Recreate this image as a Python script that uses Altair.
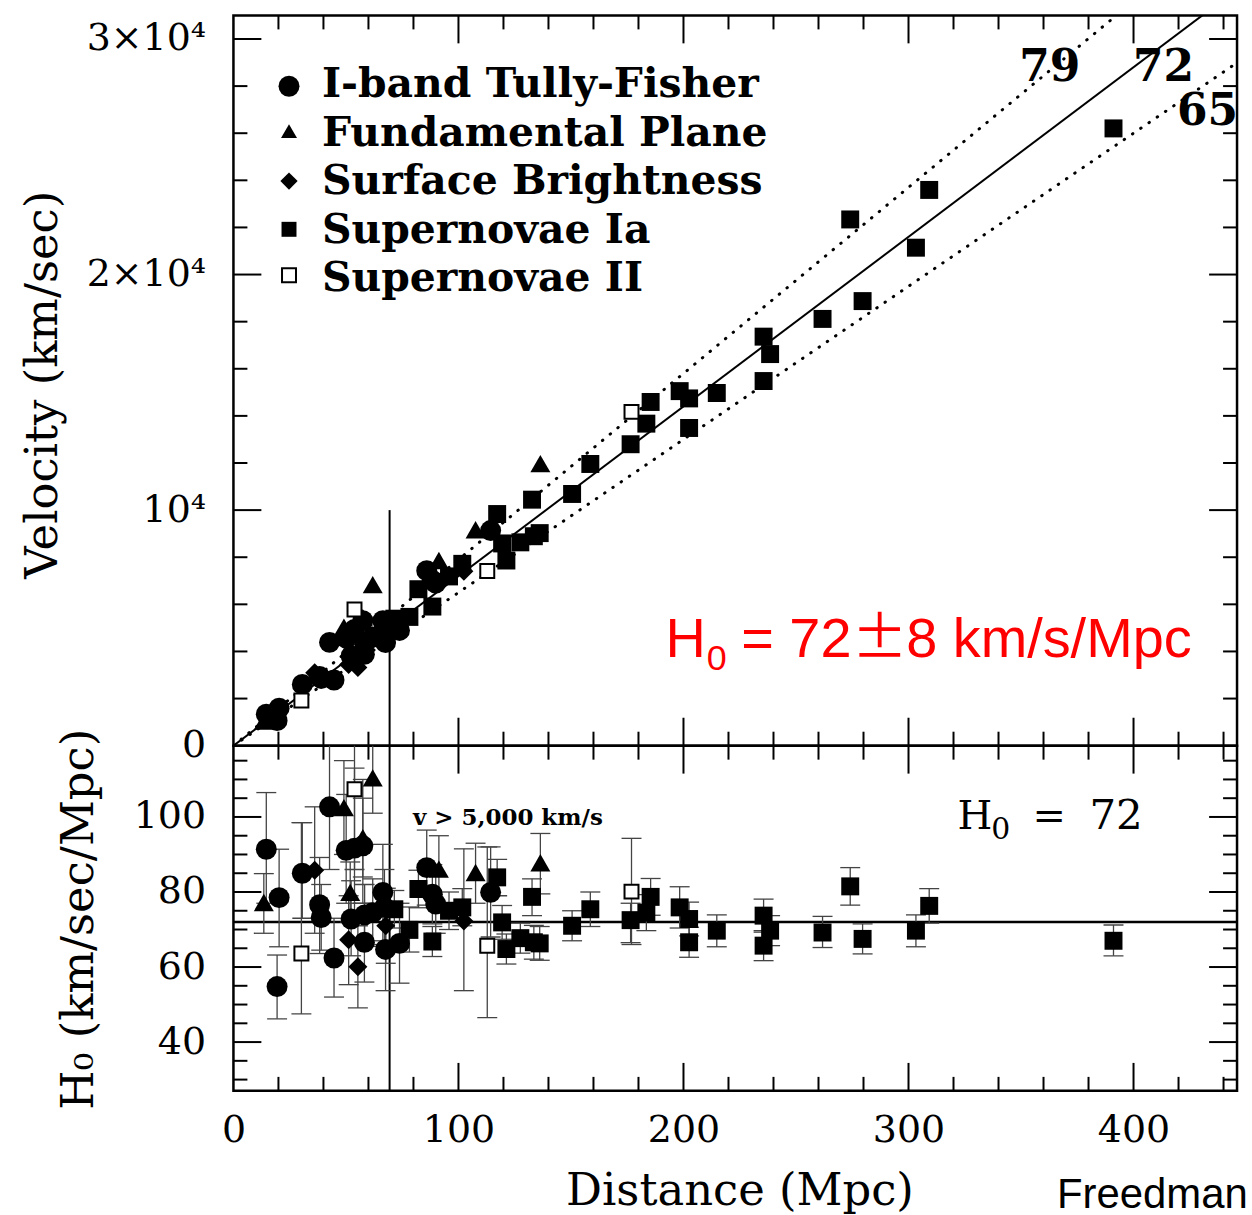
import altair as alt
import pandas as pd

# ---------------- data ----------------
# I-band Tully-Fisher (circles)
tf_dist = [14.6, 20.3, 19.4, 30.6, 38.3, 39.0, 44.7, 42.7, 50.1, 53.8, 57.5, 52.3,
           58.2, 58.3, 61.9, 66.4, 67.1, 67.6, 73.8, 85.9, 88.4, 89.9, 114.3]
tf_h0 = [91.4, 78.5, 54.8, 85.0, 76.6, 73.2, 62.4, 102.7, 91.1, 91.7, 92.3, 72.8,
         66.6, 73.9, 74.5, 79.9, 75.9, 64.7, 66.3, 86.5, 79.4, 76.8, 79.9]
tf_lo = [77.0, 65.4, 46.2, 73.0, 63.6, 64.5, 52.0, 86.0, 77.0, 74.0, 77.0, 63.0,
         56.0, 66.0, 65.5, 67.0, 66.0, 53.7, 55.7, 76.5, 71.5, 69.0, 68.0]
tf_hi = [106.5, 91.4, 63.2, 98.5, 89.2, 82.0, 73.0, 119.5, 106.0, 113.0, 110.0, 83.0,
         77.0, 82.0, 83.5, 92.7, 86.0, 75.7, 77.0, 96.5, 87.3, 84.6, 92.0]
# Fundamental Plane (triangles)
fp_dist = [13.5, 49.1, 61.9, 57.5, 51.9, 91.3, 107.6, 136.4]
fp_h0 = [77.2, 102.5, 110.4, 94.5, 79.9, 86.1, 85.2, 87.8]
fp_lo = [69.0, 90.0, 101.0, 84.0, 72.0, 77.0, 77.0, 79.5]
fp_hi = [84.9, 115.0, 120.0, 105.0, 88.0, 95.0, 93.0, 95.6]
# Surface Brightness (diamonds)
sbf_dist = [36.1, 51.2, 55.3, 67.7, 102.4]
sbf_h0 = [85.8, 67.3, 60.1, 71.0, 72.3]
sbf_lo = [69.0, 55.3, 49.1, 61.0, 53.7]
sbf_hi = [102.7, 79.0, 71.0, 81.0, 91.5]
# Supernovae Ia (filled squares)
sn1_dist = [71.5, 78.2, 82.2, 88.4, 95.8, 101.7, 117.2, 119.4, 121.3, 127.5, 132.7,
            133.5, 136.1, 150.5, 158.6, 176.5, 183.5, 185.4, 198.3, 202.5, 202.5,
            214.8, 235.6, 238.5, 235.6, 261.8, 274.1, 279.6, 303.3, 309.2, 391.1]
sn1_h0 = [75.4, 69.9, 80.8, 66.8, 75.0, 75.9, 83.9, 71.9, 64.8, 67.7, 78.7,
          66.6, 66.3, 71.0, 75.4, 72.5, 74.5, 78.7, 75.9, 72.8, 66.6,
          69.7, 73.7, 69.7, 65.7, 69.2, 81.5, 67.5, 69.7, 76.3, 67.0]
sn1_lo = [70.4, 64.0, 75.8, 62.8, 70.0, 71.0, 79.0, 67.4, 60.8, 63.7, 73.7,
          62.1, 61.8, 67.0, 70.8, 66.5, 69.7, 73.8, 70.4, 68.3, 62.6,
          65.4, 69.3, 65.7, 61.7, 65.2, 76.5, 63.5, 65.4, 71.7, 63.0]
sn1_hi = [80.4, 76.0, 85.8, 70.8, 80.0, 80.9, 88.7, 76.4, 68.8, 71.7, 83.5,
          71.1, 70.8, 75.0, 80.0, 77.0, 79.3, 83.6, 81.4, 77.3, 70.6,
          73.9, 78.1, 73.7, 69.7, 73.5, 86.5, 71.5, 73.9, 80.9, 71.2]
# Supernovae II (open squares)
sn2_dist = [30.2, 53.8, 112.8, 176.9]
sn2_h0 = [63.6, 107.4, 65.7, 80.1]
sn2_lo = [47.5, 86.0, 46.5, 66.0]
sn2_hi = [98.5, 125.0, 92.0, 94.3]

legend_names = ["I-band Tully-Fisher", "Fundamental Plane", "Surface Brightness",
                "Supernovae Ia", "Supernovae II"]
fit_slopes = [72, 79, 65]
fit_labels = ["72", "79", "65"]
h0_ref = [72]
v_cut = [69.4]          # 5,000 km/s at H0 = 72
v_cut_top = [10000]

x_major = [100, 200, 300, 400]
x_minor = [20, 40, 60, 80, 120, 140, 160, 180, 220, 240, 260, 280, 320, 340, 360, 380, 420, 440]
v_major = [10000, 20000, 30000]
v_minor = [2000, 4000, 6000, 8000, 12000, 14000, 16000, 18000, 22000, 24000, 26000, 28000]
h_major = [40, 60, 80, 100]
h_minor = [30, 35, 45, 50, 55, 65, 70, 75, 85, 90, 95, 105, 110, 115]
x_labels = [0, 100, 200, 300, 400]
v_labels = [0, 10000, 20000, 30000]
h_labels = [40, 60, 80, 100]

# ---------------- geometry ----------------
W = 1006
H_TOP = 732
H_BOT = 346
XMAX = 446
VMAX = 31000
HMIN, HMAX = 27, 119
MAJ, MIN = 28, 14

SERIF = "DejaVu Serif"
SANS = "Liberation Sans"
LABEL_SIZE = 38

frames = []
for kind, d, h, lo, hi in [("TF", tf_dist, tf_h0, tf_lo, tf_hi),
                           ("FP", fp_dist, fp_h0, fp_lo, fp_hi),
                           ("SBF", sbf_dist, sbf_h0, sbf_lo, sbf_hi),
                           ("SNIa", sn1_dist, sn1_h0, sn1_lo, sn1_hi),
                           ("SNII", sn2_dist, sn2_h0, sn2_lo, sn2_hi)]:
    frames.append(pd.DataFrame({"kind": kind, "d": d, "h": h, "lo": lo, "hi": hi}))
df = pd.concat(frames, ignore_index=True)
df["v"] = df["d"] * df["h"]
df_filled = df[df.kind != "SNII"]
df_open = df[df.kind == "SNII"]

xs = alt.Scale(domain=[0, XMAX], nice=False, zero=False)
ys_top = alt.Scale(domain=[0, VMAX], nice=False, zero=False)
ys_bot = alt.Scale(domain=[HMIN, HMAX], nice=False, zero=False)

common_axis = dict(ticks=False, tickSize=0, domain=False, grid=False, title=None,
                   labelOverlap=False, labelFlush=False, labelFont=SERIF,
                   labelFontSize=LABEL_SIZE, labelColor="black")
x_axis_bot = alt.Axis(values=x_labels, labelPadding=21, **common_axis)
y_axis_top = alt.Axis(values=v_labels, labelPadding=28,
                      labelExpr="datum.value == 0 ? '0' : datum.value == 10000 ? '10\u2074' : format(datum.value / 10000, 'd') + '\u00d710\u2074'",
                      **common_axis)
y_axis_bot = alt.Axis(values=h_labels, labelPadding=28, **common_axis)


def XT(field):
    return alt.X(field, type="quantitative", scale=xs, axis=None)


def XB(field):
    return alt.X(field, type="quantitative", scale=xs, axis=x_axis_bot)


def YT(field):
    return alt.Y(field, type="quantitative", scale=ys_top, axis=y_axis_top)


def YB(field):
    return alt.Y(field, type="quantitative", scale=ys_bot, axis=y_axis_bot)


def txt(s, x, y, size, font, weight="normal", color="black", align="left",
        baseline="alphabetic", angle=0):
    return alt.Chart(pd.DataFrame({"t": [s]})).mark_text(
        align=align, baseline=baseline, font=font, fontSize=size,
        fontWeight=weight, color=color, angle=angle
    ).encode(x=alt.value(x), y=alt.value(y), text="t:N")


def xticks(values, length, height, Xf):
    d = pd.DataFrame({"t": values})
    bottom = alt.Chart(d).mark_rule(color="black", strokeWidth=2).encode(
        x=Xf("t"), y=alt.value(height), y2=alt.value(height - length))
    top = alt.Chart(d).mark_rule(color="black", strokeWidth=2).encode(
        x=Xf("t"), y=alt.value(0), y2=alt.value(length))
    return [bottom, top]


def yticks(values, length, Yf):
    d = pd.DataFrame({"t": values})
    left = alt.Chart(d).mark_rule(color="black", strokeWidth=2).encode(
        y=Yf("t"), x=alt.value(0), x2=alt.value(length))
    right = alt.Chart(d).mark_rule(color="black", strokeWidth=2).encode(
        y=Yf("t"), x=alt.value(W), x2=alt.value(W - length))
    return [left, right]


shape_dom = ["TF", "FP", "SBF", "SNIa"]
shape_rng = ["circle", "triangle-up", "diamond", "square"]
size_rng = [441, 324, 324, 256]


def points(Xf, Yf, yfield):
    filled = alt.Chart(df_filled).mark_point(filled=True, opacity=1, color="black").encode(
        x=Xf("d"), y=Yf(yfield),
        shape=alt.Shape("kind:N", scale=alt.Scale(domain=shape_dom, range=shape_rng), legend=None),
        size=alt.Size("kind:N", scale=alt.Scale(domain=shape_dom, range=size_rng), legend=None))
    opened = alt.Chart(df_open).mark_point(shape="square", size=196, filled=True, fill="white",
                                           stroke="black", strokeWidth=2, opacity=1).encode(
        x=Xf("d"), y=Yf(yfield))
    return [filled, opened]


def anchor(x, y):
    return alt.Chart(pd.DataFrame({"a": [0]})).mark_rule(strokeOpacity=0).encode(
        x=alt.value(x), x2=alt.value(x), y=alt.value(y), y2=alt.value(y + 1))


# ---------------- top panel ----------------
fit_rows = []
for s in fit_slopes:
    fit_rows.append({"slope": s, "d": 0.0, "v": 0.0})
    fit_rows.append({"slope": s, "d": float(XMAX), "v": s * float(XMAX)})
fit_df = pd.DataFrame(fit_rows)
solid = alt.Chart(fit_df[fit_df.slope == fit_slopes[0]]).mark_line(
    color="black", strokeWidth=2, clip=True).encode(x=XT("d"), y=YT("v"), detail="slope:N")
dotted = alt.Chart(fit_df[fit_df.slope != fit_slopes[0]]).mark_line(
    color="black", strokeWidth=3, strokeDash=[0.5, 9.5], strokeCap="round", clip=True).encode(
    x=XT("d"), y=YT("v"), detail="slope:N")

vline_top = alt.Chart(pd.DataFrame({"d": v_cut, "v0": [0], "v1": v_cut_top})).mark_rule(
    color="black", strokeWidth=2).encode(x=XT("d"), y=YT("v0"), y2="v1:Q")

top_layers = [anchor(-232.3, -12.3), solid, dotted, vline_top]
top_layers += xticks(x_major, MAJ, H_TOP, XT) + xticks(x_minor, MIN, H_TOP, XT)
top_layers += yticks(v_major, MAJ, YT) + yticks(v_minor, MIN, YT)
top_layers += points(XT, YT, "v")

# legend (manual)
leg_y = [71, 116, 166, 214.4, 260.4]
leg_base = [82.2, 130.7, 179.2, 227.7, 276.2]
leg_shapes = ["circle", "triangle-up", "diamond", "square", "square"]
leg_sizes = [441, 256, 300, 225, 196]
for i, name in enumerate(legend_names):
    one = pd.DataFrame({"k": [name]})
    if i < 4:
        sym = alt.Chart(one).mark_point(shape=leg_shapes[i], size=leg_sizes[i], filled=True,
                                        color="black", opacity=1)
    else:
        sym = alt.Chart(one).mark_point(shape="square", size=leg_sizes[i], filled=True,
                                        fill="white", stroke="black", strokeWidth=2, opacity=1)
    top_layers.append(sym.encode(x=alt.value(55.7), y=alt.value(leg_y[i])))
    top_layers.append(txt(name, 88.7, leg_base[i], 41, SERIF, weight="bold"))

# fit labels
top_layers.append(txt(fit_labels[1], 787.7, 65.7, 44, SERIF, weight="bold"))
top_layers.append(txt(fit_labels[0], 901.7, 65.7, 44, SERIF, weight="bold"))
top_layers.append(txt(fit_labels[2], 945.7, 109.7, 44, SERIF, weight="bold"))

# red annotation
RED = "#ff0000"
top_layers.append(txt("H", 433, 642.7, 56, SANS, color=RED))
top_layers.append(txt("0", 474.5, 655.7, 36, SANS, color=RED))
top_layers.append(txt("= 72", 509, 642.7, 56, SANS, color=RED))
top_layers.append(txt("\u00b1", 647.7, 642.7, 56, "Noto Sans CJK JP", color=RED, align="center"))
top_layers.append(txt("8 km/s/Mpc", 674.3, 642.7, 56, SANS, color=RED))

# y title
top_layers.append(txt("Velocity (km/sec)", -177.3, 370.2, 45, SERIF, angle=270,
                      align="center", baseline="alphabetic"))

top = alt.layer(*top_layers).properties(width=W, height=H_TOP)

# ---------------- bottom panel ----------------
hline = alt.Chart(pd.DataFrame({"h": h0_ref})).mark_rule(color="black", strokeWidth=2.5).encode(
    y=YB("h"), x=alt.value(0), x2=alt.value(W))
vline_bot = alt.Chart(pd.DataFrame({"d": v_cut})).mark_rule(color="black", strokeWidth=2).encode(
    x=XB("d"), y=alt.value(0), y2=alt.value(H_BOT))
ebar = alt.Chart(df).mark_rule(color="#444444", strokeWidth=1.3, clip=True).encode(
    x=XB("d"), y=YB("lo"), y2="hi:Q")
cap_lo = alt.Chart(df).mark_tick(orient="horizontal", size=20, thickness=1.3, color="#444444",
                                 opacity=1, clip=True).encode(x=XB("d"), y=YB("lo"))
cap_hi = alt.Chart(df).mark_tick(orient="horizontal", size=20, thickness=1.3, color="#444444",
                                 opacity=1, clip=True).encode(x=XB("d"), y=YB("hi"))

bot_layers = [anchor(1252 - 232.3, 0), hline, vline_bot, ebar, cap_lo, cap_hi]
bot_layers += points(XB, YB, "h")
bot_layers += xticks(x_major, MAJ, H_BOT, XB) + xticks(x_minor, MIN, H_BOT, XB)
bot_layers += yticks(h_major, MAJ, YB) + yticks(h_minor, MIN, YB)

bot_layers.append(txt("v > 5,000 km/s", 180.0, 79.3, 23, SERIF, weight="bold"))
bot_layers.append(txt("H", 725.7, 83.5, 40, SERIF))
bot_layers.append(txt("0", 759.7, 93.5, 30, SERIF))
bot_layers.append(txt("=", 801, 83.5, 40, SERIF))
bot_layers.append(txt("72", 858, 83.5, 42, SERIF))
bot_layers.append(txt("H\u2080 (km/sec/Mpc)", -140.3, 174, 45, SERIF, angle=270,
                      align="center", baseline="alphabetic"))
bot_layers.append(txt("Distance (Mpc)", 507.7, 460.5, 45, SERIF, align="center"))
bot_layers.append(txt("Freedman", 825.5, 463.5, 42, SANS))

bottom = alt.layer(*bot_layers).properties(width=W, height=H_BOT)

chart = alt.vconcat(top, bottom, spacing=0, bounds="flush", padding=0,
                    background="white").configure_view(
    stroke="black", strokeWidth=2.5
).configure_axis(
    labelFont=SERIF, labelFontSize=LABEL_SIZE, labelColor="black"
)

chart.save("out.html", embed_options={"renderer": "svg", "actions": False})
